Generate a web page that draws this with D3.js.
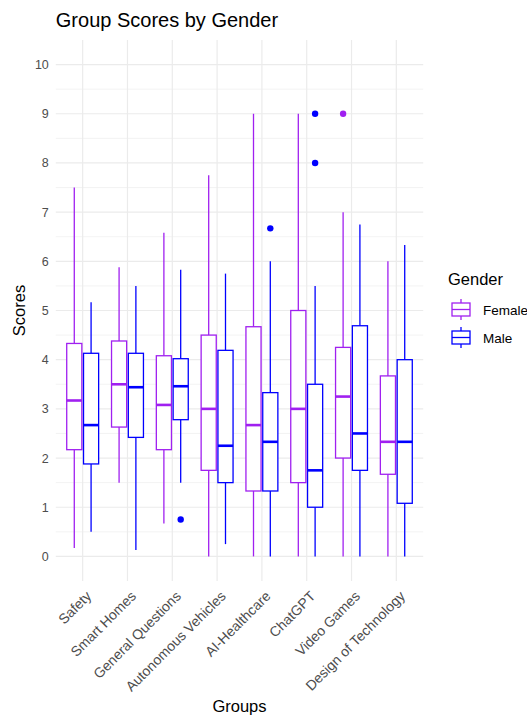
<!DOCTYPE html>
<html>
<head>
<meta charset="utf-8">
<script src="https://cdn.jsdelivr.net/npm/d3@7"></script>
<style>
  body{margin:0;background:#fff;}
  text{font-family:"Liberation Sans",Arial,sans-serif;}
</style>
</head>
<body>
<svg id="chart" width="527" height="720"></svg>
<script>
// groups on the x axis
var groups = ["Safety","Smart Homes","General Questions","Autonomous Vehicles","AI-Healthcare","ChatGPT","Video Games","Design of Technology"];
var genders = ["Female","Male"];
var yTicks = [0,1,2,3,4,5,6,7,8,9,10];

// box stats per group: lower whisker, q1, median, q3, upper whisker
var femaleLow  = [0.17, 1.5, 0.67, 0,    0,    0,   0,    0];
var femaleQ1   = [2.17, 2.63, 2.17, 1.75, 1.33, 1.5, 2.0,  1.67];
var femaleMed  = [3.17, 3.5, 3.08, 3.0,  2.67, 3.0, 3.25, 2.33];
var femaleQ3   = [4.33, 4.38, 4.08, 4.5, 4.67, 5.0, 4.25, 3.67];
var femaleHigh = [7.5, 5.88, 6.58, 7.75, 9,    9,   7,    6];
var femaleOut  = [[],[],[],[],[],[],[9],[]];

var maleLow  = [0.5, 0.13, 1.5, 0.25, 0,    0,    0,    0];
var maleQ1   = [1.88, 2.42, 2.78, 1.5, 1.33, 1.0,  1.75, 1.08];
var maleMed  = [2.67, 3.44, 3.46, 2.25, 2.33, 1.75, 2.5,  2.33];
var maleQ3   = [4.13, 4.13, 4.02, 4.19, 3.33, 3.5,  4.69, 4.0];
var maleHigh = [5.17, 5.5, 5.83, 5.75, 6.0,  5.5,  6.75, 6.33];
var maleOut  = [[],[],[0.75],[],[6.67],[9,8],[],[]];

var colors = {Female:"#A020F0", Male:"#0000FF"};

function makeRows(g,lo,q1,md,q3,hi,out){
  return groups.map(function(grp,i){
    return {group:grp, gender:g, lo:lo[i], q1:q1[i], med:md[i], q3:q3[i], hi:hi[i], out:out[i]};
  });
}
var rows = makeRows("Female",femaleLow,femaleQ1,femaleMed,femaleQ3,femaleHigh,femaleOut)
  .concat(makeRows("Male",maleLow,maleQ1,maleMed,maleQ3,maleHigh,maleOut));

var svg = d3.select("#chart");
var pL=55.8, pR=423.2, pT=40, pB=581;

var x = d3.scalePoint().domain(groups).range([pL,pR]).padding(0.6);
var y = d3.scaleLinear().domain([-0.5,10.5]).range([pB,pT]);
var step = x.step();
var boxW = step*0.375*0.9;
var offset = {Female:-step*0.1875, Male:step*0.1875};
var lw = 1.3;

// grid
var grid = svg.append("g");
grid.selectAll(".minor")
  .data(d3.range(0.5,10,1))
  .enter().append("line")
    .attr("x1",pL).attr("x2",pR)
    .attr("y1",function(d){return y(d);}).attr("y2",function(d){return y(d);})
    .attr("stroke","#ebebeb").attr("stroke-width",0.6);
grid.selectAll(".majorY")
  .data(yTicks)
  .enter().append("line")
    .attr("x1",pL).attr("x2",pR)
    .attr("y1",function(d){return y(d);}).attr("y2",function(d){return y(d);})
    .attr("stroke","#ebebeb").attr("stroke-width",1.2);
grid.selectAll(".majorX")
  .data(groups)
  .enter().append("line")
    .attr("x1",function(d){return x(d);}).attr("x2",function(d){return x(d);})
    .attr("y1",pT).attr("y2",pB)
    .attr("stroke","#ebebeb").attr("stroke-width",1.2);

// y axis
var yAxis = d3.axisLeft(y).tickValues(yTicks).tickSize(0).tickPadding(7);
var ga = svg.append("g").attr("transform","translate("+pL+",0)").call(yAxis);
ga.select(".domain").remove();
ga.selectAll("text").attr("fill","#4d4d4d").style("font-size","12.5px")
  .style("font-family","'Liberation Sans',Arial,sans-serif");

// x axis labels
var xa = svg.append("g");
xa.selectAll("text")
  .data(groups)
  .enter().append("text")
    .attr("transform",function(d){return "translate("+(x(d)+2.5)+","+(pB+9)+") rotate(-45)";})
    .attr("text-anchor","end")
    .attr("dy","0.71em")
    .attr("fill","#4d4d4d")
    .style("font-size","14px")
    .text(function(d){return d;});

// boxes
var b = svg.append("g").selectAll("g")
  .data(rows)
  .enter().append("g")
    .attr("transform",function(d){return "translate("+(x(d.group)+offset[d.gender])+",0)";});

b.append("line")
  .attr("y1",function(d){return y(d.q3);}).attr("y2",function(d){return y(d.hi);})
  .attr("stroke",function(d){return colors[d.gender];}).attr("stroke-width",lw);
b.append("line")
  .attr("y1",function(d){return y(d.q1);}).attr("y2",function(d){return y(d.lo);})
  .attr("stroke",function(d){return colors[d.gender];}).attr("stroke-width",lw);
b.append("rect")
  .attr("x",-boxW/2).attr("width",boxW)
  .attr("y",function(d){return y(d.q3);})
  .attr("height",function(d){return y(d.q1)-y(d.q3);})
  .attr("fill","#fff")
  .attr("stroke",function(d){return colors[d.gender];}).attr("stroke-width",lw);
b.append("line")
  .attr("x1",-boxW/2).attr("x2",boxW/2)
  .attr("y1",function(d){return y(d.med);}).attr("y2",function(d){return y(d.med);})
  .attr("stroke",function(d){return colors[d.gender];}).attr("stroke-width",2.6);
b.selectAll("circle")
  .data(function(d){return d.out.map(function(v){return {v:v,gender:d.gender};});})
  .enter().append("circle")
    .attr("cy",function(d){return y(d.v);})
    .attr("r",3.2)
    .attr("fill",function(d){return colors[d.gender];});

// titles
svg.append("text").attr("x",pL).attr("y",27)
  .style("font-size","20px").attr("fill","#000").text("Group Scores by Gender");
svg.append("text")
  .attr("transform","translate(25,"+((pT+pB)/2)+") rotate(-90)")
  .attr("text-anchor","middle").style("font-size","16.5px").attr("fill","#000").text("Scores");
svg.append("text").attr("x",(pL+pR)/2).attr("y",712)
  .attr("text-anchor","middle").style("font-size","16.5px").attr("fill","#000").text("Groups");

// legend
var lg = svg.append("g").attr("transform","translate(448,0)");
lg.append("text").attr("x",0).attr("y",285).style("font-size","16.5px").attr("fill","#000").text("Gender");
var key = lg.selectAll(".key")
  .data(genders)
  .enter().append("g")
    .attr("transform",function(d,i){return "translate(0,"+(299+i*28)+")";});
key.append("line").attr("x1",13).attr("x2",13).attr("y1",0).attr("y2",21)
  .attr("stroke",function(d){return colors[d];}).attr("stroke-width",lw);
key.append("rect").attr("x",4).attr("y",4).attr("width",18).attr("height",13)
  .attr("fill","#fff").attr("stroke",function(d){return colors[d];}).attr("stroke-width",lw);
key.append("line").attr("x1",4).attr("x2",22).attr("y1",10.5).attr("y2",10.5)
  .attr("stroke",function(d){return colors[d];}).attr("stroke-width",lw);
key.append("text").attr("x",35).attr("y",15.5)
  .style("font-size","13.5px").attr("fill","#000").text(function(d){return d;});
</script>
</body>
</html>
